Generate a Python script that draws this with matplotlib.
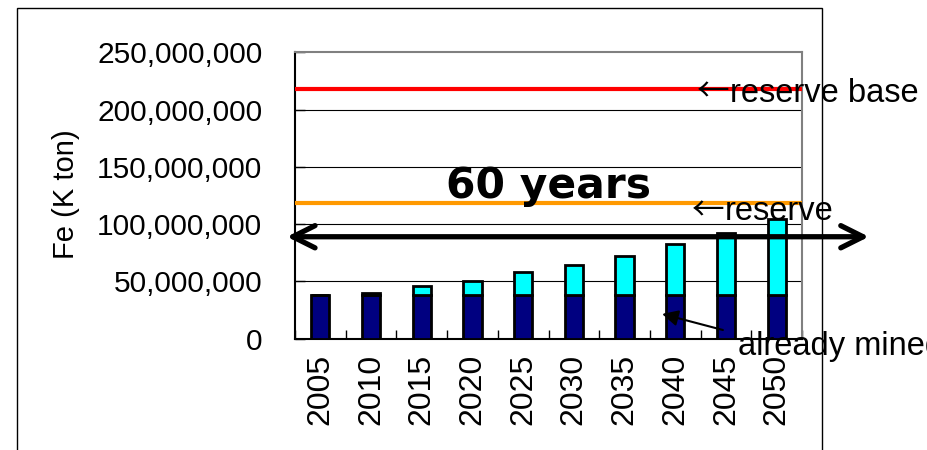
import matplotlib
matplotlib.use("Agg")
import matplotlib.pyplot as plt
from matplotlib.patches import Rectangle
from matplotlib.ticker import FuncFormatter, FixedLocator
import numpy as np

plt.rcParams['font.family'] = ['Liberation Sans', 'DejaVu Sans']

# Cumulative iron consumption (K ton)
years = ['2005', '2010', '2015', '2020', '2025', '2030', '2035', '2040', '2045', '2050']
already_mined = [38.3e6] * 10
future_mined = [0.0, 1.8e6, 7.9e6, 12.3e6, 20.2e6, 26.0e6, 33.6e6, 44.2e6, 54.4e6, 66.1e6]

reserve_base = 218e6
reserve = 118.5e6
y_ticks = [0, 50e6, 100e6, 150e6, 200e6, 250e6]

fig = plt.figure(figsize=(9.28, 4.5), dpi=100)
ax = fig.add_axes([295 / 928, 1 - 338.7 / 450, 507 / 928, 286.4 / 450])

x = np.arange(len(years))
bar_w = 0.36
ax.bar(x, already_mined, width=bar_w, color='#000080', edgecolor='black', linewidth=2, zorder=3)
ax.bar(x, future_mined, width=bar_w, bottom=already_mined, color='#00FFFF',
       edgecolor='black', linewidth=2, zorder=3)

ax.axhline(reserve_base, color='#FF0000', linewidth=3, zorder=4)
ax.axhline(reserve, color='#FF9900', linewidth=3, zorder=4)

ax.set_xlim(-0.5, len(years) - 0.5)
ax.set_ylim(0, 250e6)

# horizontal gridlines
for v in y_ticks[1:-1]:
    ax.axhline(v, color='black', linewidth=0.8, zorder=1)

ax.yaxis.set_major_locator(FixedLocator(y_ticks))
ax.yaxis.set_major_formatter(FuncFormatter(lambda v, p: f"{int(v):,}"))
ax.tick_params(axis='y', direction='in', length=7, width=1, labelsize=21.5, pad=23.5)

ax.set_xticks(x)
ax.set_xticklabels(years, rotation=90)
ax.set_xticks(np.arange(-0.5, len(years), 1.0), minor=True)
ax.tick_params(axis='x', which='major', length=0, labelsize=23, pad=11)
ax.tick_params(axis='x', which='minor', direction='in', length=6.5, width=1)

for s in ['left', 'bottom']:
    ax.spines[s].set_color('black')
    ax.spines[s].set_linewidth(1.5)
for s in ['top', 'right']:
    ax.spines[s].set_color('#808080')
    ax.spines[s].set_linewidth(1.5)

ax.text(-0.452, 0.505, 'Fe (K ton)', transform=ax.transAxes, rotation=90,
        ha='center', va='center', fontsize=21)

ax.text(4.5, 123e6, '60 years', ha='center', va='baseline', fontsize=30.5,
        fontweight='bold', family='DejaVu Sans', zorder=6)

ann_size = 23.5
arrow_font = ['Noto Sans CJK JP', 'DejaVu Sans']
# reserve base label
ax.text(7.43, 206.9e6, '\u2190', ha='left', va='baseline', fontsize=ann_size,
        family=arrow_font, clip_on=False, zorder=6)
ax.text(8.08, 206.9e6, 'reserve base', ha='left', va='baseline', fontsize=ann_size,
        clip_on=False, zorder=6)
# reserve label
ax.text(7.33, 103.4e6, '\u2190', ha='left', va='baseline', fontsize=ann_size,
        family=arrow_font, clip_on=False, zorder=6)
ax.text(7.98, 103.4e6, 'reserve', ha='left', va='baseline', fontsize=ann_size,
        clip_on=False, zorder=6)
# already mined label
ax.text(8.24, -14.2e6, 'already mined', ha='left', va='baseline', fontsize=ann_size,
        clip_on=False, zorder=6)

ax.annotate('', xy=(6.74, 21.6e6), xytext=(7.94, 7.6e6),
            arrowprops=dict(arrowstyle='-|>', color='black', lw=1.5, mutation_scale=24,
                            shrinkA=0, shrinkB=0),
            annotation_clip=False, zorder=7)

ax.annotate('', xy=(-0.66, 89e6), xytext=(10.82, 89e6),
            arrowprops=dict(arrowstyle='<->', color='black', lw=3.8, mutation_scale=40,
                            shrinkA=0, shrinkB=0),
            annotation_clip=False, zorder=7)

fig.patches.append(Rectangle((17 / 928, -0.05), (822 - 17) / 928, 1.05 - 8 / 450,
                             transform=fig.transFigure, fill=False, edgecolor='black',
                             linewidth=1))

fig.savefig('out.png', dpi=100)
